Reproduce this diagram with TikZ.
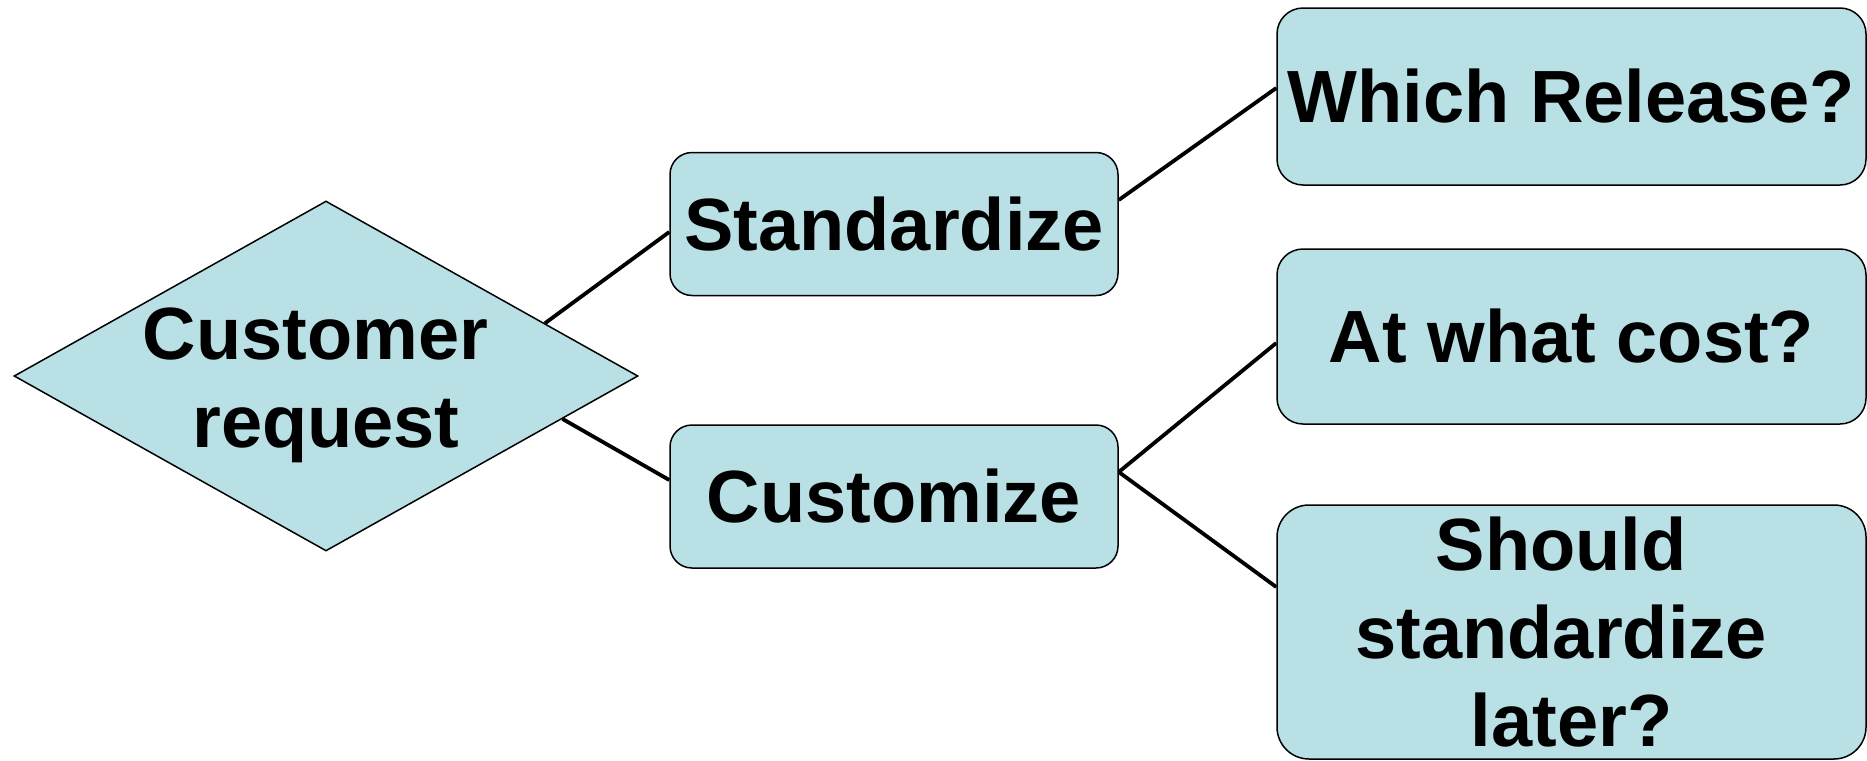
\documentclass[tikz,border=0pt]{standalone}
\usepackage{fontspec}
\setmainfont{Liberation Sans}
\usetikzlibrary{shapes.geometric,calc}
\definecolor{boxfill}{RGB}{185,224,229}
\begin{document}
\begin{tikzpicture}[x=0.5pt,y=-0.5pt,
  lbl/.style={font=\bfseries\fontsize{37}{44}\selectfont, align=center, text=black},
  shapebox/.style={draw=black, line width=0.75pt, fill=boxfill},
  smallbox/.style={shapebox, rectangle, rounded corners=11pt, minimum width=224pt, minimum height=71.5pt, inner sep=0pt},
  bigbox/.style={shapebox, rectangle, rounded corners=13pt, minimum width=294.5pt, inner sep=0pt},
  link/.style={draw=black, line width=1.9pt}]
\useasboundingbox (0,0) rectangle (1867,760);
\clip (0,0) rectangle (1867,760);
\node[shapebox, diamond, minimum width=312pt, minimum height=175pt, inner sep=0pt] (d) at (326,376) {};
\node[lbl] (dt) at (326,385) {Customer\kern0.28em\\request};
\node[smallbox, lbl] (s) at (894,224) {Standardize};
\node[smallbox, lbl] (c) at (894,496.5) {Customize};
\node[bigbox, lbl, minimum height=88.5pt] (w) at (1571.5,96.5) {Which Release?};
\node[bigbox, lbl, minimum height=87.5pt] (a) at (1571.5,336.5) {At what cost?};
\node[bigbox, lbl, minimum height=127pt, rounded corners=16pt] (q) at (1571.5,632) {Should\kern0.28em\\standardize\kern0.28em\\later?};
\coordinate (p1) at ($(d.north)!0.70!(d.east)$);
\coordinate (p2) at ($(d.east)!0.244!(d.south)$);
\coordinate (cr) at ([yshift=12.25pt]c.east);
\draw[link] (p1) -- ([yshift=-4pt]s.west);
\draw[link] (p2) -- ([yshift=8.25pt]c.west);
\draw[link] ([yshift=12pt]s.east) -- ([yshift=4.25pt]w.west);
\draw[link] (cr) -- ([yshift=-3.25pt]a.west);
\draw[link] (cr) -- ([yshift=22.5pt]q.west);
\end{tikzpicture}
\end{document}
